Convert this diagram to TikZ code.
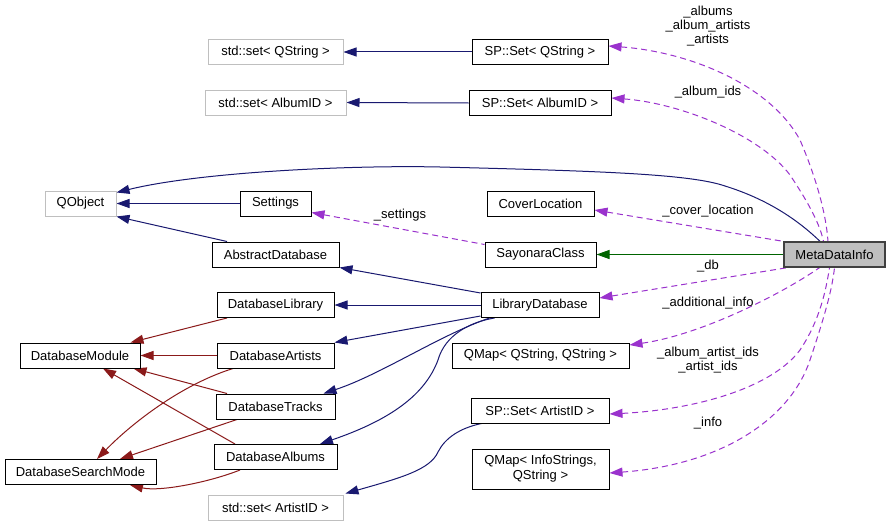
\documentclass[tikz,border=0pt]{standalone}
\usepackage{fontspec}
\setmainfont{Liberation Sans}
\usetikzlibrary{arrows.meta,backgrounds}
\definecolor{inhblue}{HTML}{191970}
\definecolor{inhgreen}{HTML}{006400}
\definecolor{inhred}{HTML}{8B1A1A}
\definecolor{usepurple}{HTML}{9A32CD}
\definecolor{greyborder}{HTML}{BFBFBF}
\definecolor{greyfill}{HTML}{BFBFBF}
\definecolor{mainborder}{HTML}{404040}
\tikzset{
  box/.style={draw=black, line width=1pt, fill=white, rectangle, inner sep=0pt, minimum height=25pt, align=center, font=\fontsize{13}{15}\selectfont},
  greybox/.style={box, draw=greyborder},
  mainbox/.style={box, fill=greyfill, draw=mainborder, line width=1.3pt},
  tip/.style={{Triangle[length=13pt,width=9pt]}-},
  inhb/.style={tip, draw=inhblue, line width=1pt},
  inhg/.style={tip, draw=inhgreen, line width=1pt},
  inhr/.style={tip, draw=inhred, line width=1pt},
  usage/.style={tip, draw=usepurple, line width=1pt, dash pattern=on 6pt off 4pt},
  elabel/.style={inner sep=0pt, align=center, font=\fontsize{13}{14}\selectfont}
}
\begin{document}
\begin{tikzpicture}[x=1pt,y=-1pt]
\useasboundingbox (0,0) rectangle (891,527);

\coordinate (c1) at (440,167);

% nodes
\node[greybox, minimum width=135pt] (ssq) at (275.5,52) {std::set< QString >};
\node[greybox, minimum width=141pt] (ssa) at (275.5,102.5) {std::set< AlbumID >};
\node[box, minimum width=136pt] (spq) at (540,52) {SP::Set< QString >};
\node[box, minimum width=142pt] (spa) at (540,103) {SP::Set< AlbumID >};
\node[greybox, minimum width=71pt] (qo) at (80.5,203.5) {QObject};
\node[box, minimum width=71pt] (set) at (275.5,203.5) {Settings};
\node[box, minimum width=127pt] (ad) at (275.5,254.5) {AbstractDatabase};
\node[box, minimum width=107pt] (cl) at (540.5,203.5) {CoverLocation};
\node[box, minimum width=111pt] (sc) at (540.5,254.5) {SayonaraClass};
\node[mainbox, minimum width=101pt] (mdi) at (834.5,254.5) {MetaDataInfo};
\node[box, minimum width=117pt] (dl) at (275.5,305) {DatabaseLibrary};
\node[box, minimum width=120pt] (dm) at (80,355.5) {DatabaseModule};
\node[box, minimum width=117pt] (dar) at (275.5,355.5) {DatabaseArtists};
\node[box, minimum width=119pt] (dt) at (275.5,406.5) {DatabaseTracks};
\node[box, minimum width=151pt] (dsm) at (80.5,472) {DatabaseSearchMode};
\node[box, minimum width=123pt] (dal) at (275.5,457) {DatabaseAlbums};
\node[greybox, minimum width=135pt] (ssar) at (275.5,507.5) {std::set< ArtistID >};
\node[box, minimum width=118pt] (ld) at (540,305) {LibraryDatabase};
\node[box, minimum width=177pt] (qmqq) at (540.5,355.5) {QMap< QString, QString >};
\node[box, minimum width=138pt] (spar) at (540,410.5) {SP::Set< ArtistID >};
\node[box, minimum width=137pt, minimum height=40pt] (qmis) at (540.5,469) {QMap< InfoStrings,\\ QString >};

\begin{pgfonlayer}{background}
\fill[white] (0,0) rectangle (891,527);
% blue
\draw[inhb] (ssq.east) -- (spq.west);
\draw[inhb] (ssa.east) -- (spa.west);
\draw[inhb] ([yshift=-2pt]qo.north east) .. controls (200,172) and (350,165) .. (c1)
  .. controls (600,171) and (690,174) .. (725,186) .. controls (770,200) and (800,222) .. ([xshift=-14.5pt]mdi.north);
\draw[inhb] (qo.east) -- (set.west);
\draw[inhb] (qo.south east) -- ([xshift=-48.5pt]ad.north);
\draw[inhb] (ad.south east) -- ([yshift=-1pt]ld.north west);
\draw[inhb] (dl.east) -- (ld.west);
\draw[inhb] (dar.north east) -- ([yshift=2pt]ld.south west);
\draw[inhb] ([xshift=48pt]dt.north) .. controls (380,375) and (440,335) .. ([xshift=9pt]ld.south west);
\draw[inhb] ([xshift=44.5pt]dal.north) .. controls (390,420) and (425,395) .. (438,360)
  .. controls (445,335) and (470,322) .. ([xshift=14pt]ld.south west);
\draw[inhb] ([xshift=2pt,yshift=1pt]ssar.north east) .. controls (400,478) and (430,470) .. (438,452)
  .. controls (445,438) and (460,428) .. ([xshift=11pt]spar.south west);

% green
\draw[inhg] (sc.east) -- (mdi.west);

% red
\draw[inhr] ([xshift=-10pt]dm.north east) -- ([xshift=-48.5pt]dl.south);
\draw[inhr] (dm.east) -- (dar.west);
\draw[inhr] ([xshift=-7pt]dm.south east) -- ([xshift=-48.5pt]dt.north);
\draw[inhr] ([xshift=23pt]dm.south) -- ([xshift=-40.5pt]dal.north);
\draw[inhr] ([xshift=16.5pt]dsm.north) .. controls (130,425) and (180,385) .. ([xshift=-42.5pt]dar.south);
\draw[inhr] ([xshift=39.5pt]dsm.north) -- ([xshift=-38.5pt]dt.south);
\draw[inhr] ([xshift=49.5pt]dsm.south) .. controls (160,492) and (210,482) .. ([xshift=-35.5pt]dal.south);

% purple usage
\draw[usage] ([yshift=6pt]spq.east) .. controls (690,52) and (770,85) .. (800,140)
  .. controls (815,175) and (826,212) .. ([xshift=-6.5pt]mdi.north);
\draw[usage] ([yshift=5pt]spa.east) .. controls (680,103) and (760,135) .. (790,175)
  .. controls (810,205) and (820,225) .. ([xshift=-11pt]mdi.north);
\draw[usage] ([yshift=-6.5pt]cl.east) -- (mdi.north west);
\draw[usage] ([yshift=-9pt]set.east) -- ([yshift=10pt]sc.west);
\draw[usage] ([yshift=7pt]ld.east) -- ([xshift=4pt]mdi.south west);
\draw[usage] ([yshift=10.5pt]qmqq.east) .. controls (700,335) and (780,295) .. ([xshift=-15pt]mdi.south);
\draw[usage] ([yshift=-3.5pt]spar.east) .. controls (690,410) and (770,390) .. (800,350)
  .. controls (820,320) and (826,290) .. ([xshift=-5pt]mdi.south);
\draw[usage] ([yshift=-4pt]qmis.east) .. controls (720,465) and (790,420) .. (810,360)
  .. controls (825,315) and (832,290) .. ([xshift=0pt]mdi.south);
\end{pgfonlayer}

% labels
\node[elabel] (l1) at (708,26) {\_albums\\\_album\_artists\\\_artists};
\node[elabel] (l2) at (708,92) {\_album\_ids};
\node[elabel] (l3) at (708,211) {\_cover\_location};
\node[elabel] (l4) at (400,215) {\_settings};
\node[elabel] (l5) at (708,266) {\_db};
\node[elabel] (l6) at (708,303) {\_additional\_info};
\node[elabel] (l7) at (708,360) {\_album\_artist\_ids\\\_artist\_ids};
\node[elabel] (l8) at (708,423) {\_info};
\end{tikzpicture}
\end{document}
